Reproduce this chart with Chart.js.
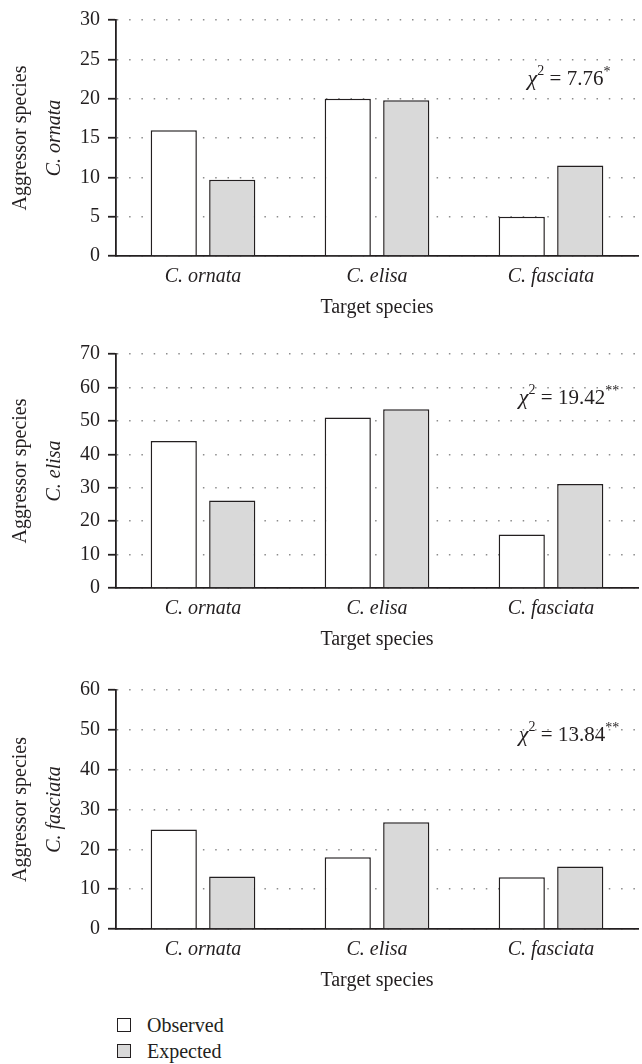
<!DOCTYPE html>
<html>
<head>
<meta charset="utf-8">
<script src="https://cdn.jsdelivr.net/npm/chart.js@4/dist/chart.umd.min.js"></script>
<style>
body { margin: 0; background: #fff; font-family: 'Liberation Serif', serif; color: #231f20; }
#wrap { position: relative; width: 642px; height: 1064px; overflow: hidden; }
canvas { position: absolute; left: 0; }
.leg { position: absolute; left: 117px; height: 24px; line-height: 24px; font-size: 20px; white-space: nowrap; }
.leg .box { position: absolute; left: 0; top: 5px; width: 12px; height: 12px; border: 1.5px solid #231f20; }
.leg .lab { position: absolute; left: 30px; top: 0; }
</style>
</head>
<body>
<div id="wrap"></div>
<script>
// target species on the x axis
var categories = ['C. ornata', 'C. elisa', 'C. fasciata'];
var seriesNames = ['Observed', 'Expected'];

// one panel per aggressor species
var aggressors = ['C. ornata', 'C. elisa', 'C. fasciata'];

var observedOrnata = [16, 20, 5];
var expectedOrnata = [9.7, 19.8, 11.5];
var observedElisa = [44, 51, 16];
var expectedElisa = [26.2, 53.5, 31.1];
var observedFasciata = [25, 18, 13];
var expectedFasciata = [13.2, 26.8, 15.7];

var yMax = [30, 70, 60];
var yStep = [5, 10, 10];
var chiValues = ['7.76', '19.42', '13.84'];
var chiStars = ['*', '**', '**'];

var observed = [observedOrnata, observedElisa, observedFasciata];
var expected = [expectedOrnata, expectedElisa, expectedFasciata];

// layout of the three canvases
var canvasTop = [0, 330, 670];
var canvasHeight = [326, 328, 329];
var padTop = [14, 24, 17];
var chiOffset = [65, 50, 51];

var ink = '#231f20';
var serif = "'Liberation Serif', serif";
Chart.defaults.font.family = serif;
Chart.defaults.color = ink;

// y title in two lines, second one italic, plus the chi-square note
var panelText = {
    id: 'panelText',
    afterDraw(chart) {
        var o = chart.options.plugins.panelText;
        var ctx = chart.ctx;
        var a = chart.chartArea;
        ctx.save();
        ctx.fillStyle = ink;
        ctx.textAlign = 'center';
        ctx.textBaseline = 'middle';
        ctx.translate(21, (a.top + a.bottom) / 2);
        ctx.rotate(-Math.PI / 2);
        ctx.font = `20px ${serif}`;
        ctx.fillText('Aggressor species', 0, 0);
        ctx.font = `italic 20px ${serif}`;
        ctx.fillText(o.species, 0, 34);
        ctx.restore();

        var parts = [
            { t: 'χ', f: `italic 22px ${serif}`, dy: 0 },
            { t: '2', f: `14px ${serif}`, dy: -10 },
            { t: ' = ' + o.chi, f: `21px ${serif}`, dy: 0 },
            { t: o.stars, f: `14px ${serif}`, dy: -9 }
        ];
        ctx.save();
        ctx.fillStyle = ink;
        ctx.textBaseline = 'alphabetic';
        ctx.textAlign = 'left';
        var total = 0;
        for (var i = 0; i < parts.length; i++) {
            ctx.font = parts[i].f;
            parts[i].w = ctx.measureText(parts[i].t).width;
            total += parts[i].w;
        }
        var x = 569 - total / 2;
        var y = a.top + o.offset;
        for (var i = 0; i < parts.length; i++) {
            ctx.font = parts[i].f;
            ctx.fillText(parts[i].t, x, y + parts[i].dy);
            x += parts[i].w;
        }
        ctx.restore();
    }
};

function grafico(n) {
    var cv = document.createElement('canvas');
    cv.width = 642;
    cv.height = canvasHeight[n];
    cv.style.top = canvasTop[n] + 'px';
    document.getElementById('wrap').appendChild(cv);

    new Chart(cv, {
        type: 'bar',
        data: {
            labels: categories,
            datasets: [{
                label: seriesNames[0],
                data: observed[n],
                backgroundColor: '#ffffff',
                borderColor: ink,
                borderWidth: 1.5
            }, {
                label: seriesNames[1],
                data: expected[n],
                backgroundColor: '#d9d9d9',
                borderColor: ink,
                borderWidth: 1.5
            }]
        },
        options: {
            responsive: false,
            animation: false,
            devicePixelRatio: 1,
            categoryPercentage: 0.672,
            barPercentage: 0.79,
            layout: { padding: { top: padTop[n], right: 4, left: 0, bottom: 0 } },
            plugins: {
                legend: { display: false },
                tooltip: { enabled: false },
                panelText: { species: aggressors[n], chi: chiValues[n], stars: chiStars[n], offset: chiOffset[n] }
            },
            scales: {
                x: {
                    afterFit: function (s) { s.height = 70; },
                    grid: { display: true, drawOnChartArea: false, drawTicks: false },
                    border: { color: ink, width: 1.8 },
                    ticks: { padding: 9, color: ink, font: { size: 20, style: 'italic' } },
                    title: { display: true, text: 'Target species', color: ink, font: { size: 20 }, padding: { top: 0, bottom: 6 } }
                },
                y: {
                    min: 0,
                    max: yMax[n],
                    afterFit: function (s) { s.width = 116; },
                    ticks: { stepSize: yStep[n], padding: 8, color: ink, font: { size: 20 } },
                    grid: { color: '#8c8c8c', lineWidth: 1.5, tickLength: 8, tickColor: ink, tickWidth: 1.8, tickBorderDash: [] },
                    border: { color: ink, width: 1.8, dash: [1.5, 10.8] }
                }
            }
        },
        plugins: [panelText]
    });
}

for (var i = 0; i < aggressors.length; i++) {
    grafico(i);
}

// legend under the last panel
var legendTop = [1013, 1039];
var legendFill = ['#ffffff', '#d9d9d9'];
for (var i = 0; i < seriesNames.length; i++) {
    var d = document.createElement('div');
    d.className = 'leg';
    d.style.top = legendTop[i] + 'px';
    d.innerHTML = `<span class="box" style="background:${legendFill[i]}"></span><span class="lab">${seriesNames[i]}</span>`;
    document.getElementById('wrap').appendChild(d);
}
</script>
</body>
</html>
